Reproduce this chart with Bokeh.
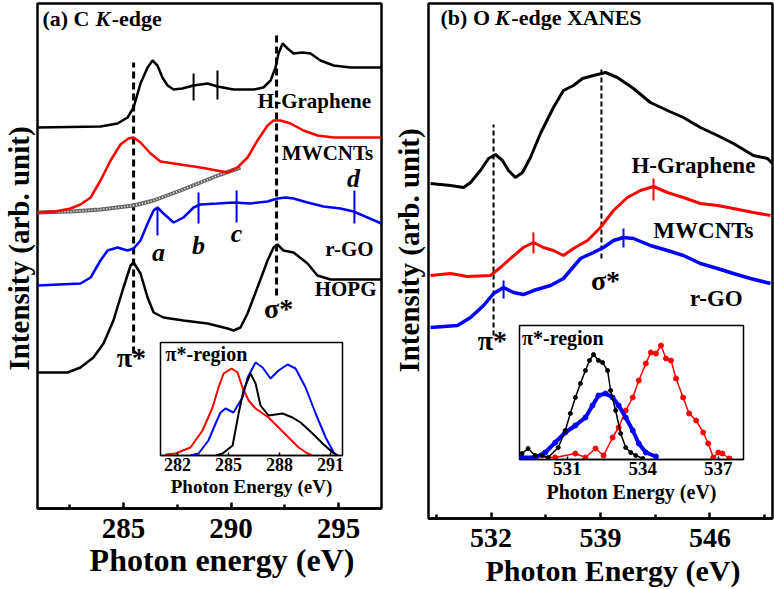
import math
from bokeh.plotting import figure
from bokeh.models import Label, FixedTicker, GridBox, Range1d
from bokeh.embed import file_html
from bokeh.resources import INLINE

FONT = "Liberation Serif"

# ---------------- Panel (a): C K-edge (energy eV, intensity arb. unit) ----------------
hgr_a_e = [281.0, 283.93, 284.72, 285.19, 285.47, 285.79, 286.12, 286.35, 286.58, 286.81, 287.05, 287.33,
           287.74, 288.26, 288.91, 289.37, 290.12, 291.05, 291.51, 291.84, 292.07, 292.21, 292.4, 292.63,
           292.91, 293.33, 293.7, 294.16, 294.77, 295.56, 297.0]
hgr_a_i = [381, 382, 385, 391, 401, 425, 441, 448, 443, 431, 423, 419,
           420, 423, 425, 422, 419, 419, 421, 428, 441, 455, 465, 460,
           455, 456, 455, 448, 443, 441, 441]

mw_a_e = [281.0, 281.84, 282.53, 283.0, 283.47, 283.93, 284.4, 284.86, 285.23, 285.47, 285.79, 286.26, 286.72,
          287.33, 288.58, 289.84, 290.3, 290.77, 291.23, 291.7, 291.98, 292.3, 292.77, 293.37, 294.02, 294.77, 297.0]
mw_a_i = [296, 297, 300, 304, 311, 328, 348, 364, 370, 371, 366, 355, 347,
          345, 341, 336, 341, 351, 368, 383, 388, 388, 385, 378, 373, 371, 371]

bg_a_e = [281.0, 282.53, 283.93, 285.47, 286.4, 287.65, 288.58, 289.51, 290.44]
bg_a_i = [296, 297, 299, 303, 308, 318, 326, 334, 341]

rgo_a_e = [281.0, 283.0, 283.47, 283.93, 284.26, 284.72, 285.19, 285.47, 285.79, 286.12, 286.4, 286.58, 286.86,
           287.33, 287.79, 288.26, 288.58, 289.37, 290.12, 290.91, 291.7, 292.16, 292.53, 292.91, 293.56,
           294.3, 295.09, 295.7, 296.35, 297.0]
rgo_a_i = [223, 225, 231, 248, 258, 261, 258, 260, 268, 285, 298, 301, 295,
           286, 291, 301, 304, 305, 306, 305, 307, 310, 311, 310, 306,
           302, 300, 297, 291, 285]

hopg_a_e = [281.0, 282.4, 283.0, 283.6, 284.07, 284.53, 285.0, 285.33, 285.47, 285.79, 286.12, 286.4, 286.86,
            287.79, 288.91, 289.84, 290.12, 290.44, 290.77, 291.23, 291.7, 291.98, 292.16, 292.44, 292.91,
            293.56, 294.02, 294.63, 297.0]
hopg_a_i = [136, 136, 141, 151, 165, 188, 221, 243, 246, 235, 211, 196, 191,
            188, 185, 180, 178, 181, 195, 221, 248, 261, 264, 258, 256,
            245, 233, 229, 229]

# feature markers (a)
peak_lines_a_e = [285.47, 292.12]          # pi*, sigma*
peak_lines_a_top = [446, 476]
peak_lines_a_bot = [155, 213]
hgr_marks_e = [288.26, 289.37]
hgr_marks_top = [435, 438]
hgr_marks_bot = [408, 409]
rgo_marks_e = [286.58, 288.49, 290.26, 295.74]
rgo_marks_top = [301, 316, 318, 318]
rgo_marks_bot = [273, 285, 286, 285]

# inset (a): pi*-region
ina_red_e = [281.29, 281.88, 282.76, 283.47, 284.06, 284.41, 284.71, 285.18, 285.53, 285.82, 286.18, 286.59,
             287.35, 287.94, 288.53, 289.12, 289.65, 289.94]
ina_red_i = [1, 2, 8, 25, 48, 68, 82, 87, 83, 68, 55, 47, 38, 28, 18, 8, 2, 0]
ina_blue_e = [282.76, 283.24, 283.82, 284.24, 284.53, 284.82, 285.29, 285.82, 286.12, 286.59, 287.0, 287.47,
              287.94, 288.47, 288.94, 289.53, 290.12, 290.71, 291.18, 291.41]
ina_blue_i = [0, 2, 15, 32, 43, 47, 43, 58, 78, 93, 88, 77, 85, 91, 87, 68, 42, 18, 3, 0]
ina_black_e = [284.24, 284.65, 285.24, 285.59, 285.88, 286.29, 286.59, 286.88, 287.35, 288.18, 288.76, 289.24,
               289.94, 290.53, 291.12, 291.41]
ina_black_i = [0, 2, 10, 42, 65, 82, 72, 50, 40, 42, 38, 33, 22, 12, 3, 0]

# ---------------- Panel (b): O K-edge XANES ----------------
hgr_b_e = [528.13, 529.41, 530.24, 530.69, 531.32, 531.84, 532.28, 532.73, 533.12, 533.56, 534.01, 534.52,
           535.16, 535.99, 536.63, 537.27, 537.85, 538.55, 539.32, 540.08, 541.11, 542.19, 543.28, 544.3,
           545.39, 546.48, 547.5, 548.78, 549.68, 550.0]
hgr_b_i = [335, 333, 331, 336, 348, 360, 364, 358, 348, 341, 346, 361,
           385, 411, 428, 433, 440, 443, 446, 441, 430, 416, 408, 401,
           391, 383, 375, 363, 360, 355]
mw_b_e = [528.13, 529.41, 530.49, 531.96, 532.6, 533.24, 534.07, 534.71, 535.35, 535.99, 536.63, 537.27, 538.17,
          539.0, 539.83, 540.72, 541.55, 542.39, 543.28, 544.3, 545.39, 546.48, 547.5, 548.78, 549.87]
mw_b_i = [243, 245, 242, 243, 251, 260, 271, 276, 271, 268, 263, 270, 278,
          291, 308, 321, 328, 332, 326, 321, 315, 313, 310, 306, 303]
rgo_b_e = [528.13, 529.85, 530.69, 531.52, 532.16, 532.8, 533.43, 534.07, 534.71, 535.8, 536.63, 537.72, 538.55,
           539.19, 539.83, 540.47, 541.11, 542.19, 543.28, 544.3, 545.39, 546.48, 547.5, 548.59, 549.87]
rgo_b_i = [191, 193, 201, 213, 225, 231, 226, 224, 228, 233, 240, 260, 266,
           271, 278, 281, 280, 273, 268, 263, 255, 250, 245, 240, 235]

peak_lines_b_e = [532.16, 539.06]
peak_lines_b_top = [394, 452]
peak_lines_b_bot = [183, 260]
mw_marks_b_e = [534.71, 542.39]
mw_marks_b_top = [286, 340]
mw_marks_b_bot = [265, 318]
rgo_marks_b_e = [532.8, 540.47]
rgo_marks_b_top = [238, 290]
rgo_marks_b_bot = [220, 271]

# inset (b): pi*-region
inb_black_e = [529.2, 529.44, 529.72, 530.0, 530.24, 530.64, 530.92, 531.12, 531.32, 531.52, 531.72, 531.88,
               532.04, 532.24, 532.4, 532.6, 532.72, 532.92, 533.12, 533.32, 533.52, 533.72, 534.0]
inb_black_i = [6, 11, 4, 4, 2, 12, 29, 46, 62, 76, 89, 99, 105, 99, 97, 89, 69, 49, 26, 12, 7, 4, 1]
inb_blue_e = [529.2, 529.72, 530.12, 530.52, 530.92, 531.32, 531.72, 532.0, 532.24, 532.52, 532.8, 533.04,
              533.32, 533.6, 533.84, 534.12, 534.52]
inb_blue_i = [2, 2, 7, 17, 27, 34, 42, 54, 64, 66, 62, 54, 42, 29, 16, 7, 3]
inb_red_e = [529.72, 530.52, 531.32, 531.72, 532.12, 532.44, 532.8, 533.04, 533.32, 533.6, 533.84, 534.12,
             534.32, 534.52, 534.72, 534.92, 535.12, 535.32, 535.6, 535.84, 536.12, 536.4, 536.6, 536.8,
             537.0, 537.16, 537.44]
inb_red_i = [3, 2, 6, 2, 11, 4, 22, 32, 49, 62, 79, 96, 107, 106, 114, 101, 99, 81, 62, 46, 39, 27, 16, 2, 7, 6, 1]

ticks_a = [285, 290, 295]
minor_a = [282.5, 287.5, 292.5]
ticks_b = [532, 539, 546]
minor_b = [528.5, 535.5, 542.5, 549.5]
ticks_ia = [282, 285, 288, 291]
ticks_ib = [531, 534, 537]

BLACK, RED, BLUE = "#000000", "#ff0000", "#0000ff"


def make_fig(w, h, xr, yr, mb, major, minor, tick_px, standoff, outline_w, axis_w, tick_in):
    p = figure(width=w, height=h, x_range=Range1d(*xr), y_range=Range1d(*yr),
               output_backend="svg", toolbar_location=None, y_axis_location=None,
               min_border_left=mb[0], min_border_right=mb[1], min_border_top=mb[2], min_border_bottom=mb[3])
    p.xgrid.visible = False
    p.ygrid.visible = False
    p.outline_line_color = "black"
    p.outline_line_width = outline_w
    p.outline_line_alpha = 1
    ax = p.xaxis[0]
    ax.ticker = FixedTicker(ticks=major, minor_ticks=minor)
    ax.axis_line_width = axis_w
    ax.axis_line_color = "black"
    ax.major_tick_line_width = axis_w
    ax.minor_tick_line_width = axis_w
    ax.major_tick_line_color = "black"
    ax.minor_tick_line_color = "black" if minor else None
    ax.major_tick_in = tick_in
    ax.major_tick_out = 0
    ax.minor_tick_in = max(tick_in - 2, 0)
    ax.minor_tick_out = 0
    ax.major_label_text_font = FONT
    ax.major_label_text_font_style = "bold"
    ax.major_label_text_font_size = f"{tick_px}px"
    ax.major_label_text_color = "black"
    ax.major_label_standoff = standoff
    ax.axis_label_text_font = FONT
    ax.axis_label_text_font_style = "bold"
    ax.axis_label_text_color = "black"
    return p


def lab(p, x, y, text, size, style="bold", align="center", baseline="middle", angle=0.0):
    p.add_layout(Label(x=x, y=y, text=text, text_font=FONT, text_font_size=f"{size}px",
                       text_font_style=style, text_align=align, text_baseline=baseline,
                       angle=angle, text_color="black"))


# ---- main (a)
pa = make_fig(400, 589, (281, 297), (0, 505), (37, 19, 3, 81), ticks_a, minor_a, 29, 10, 2.5, 2.5, 6)
pa.segment(x0=peak_lines_a_e, y0=peak_lines_a_bot, x1=peak_lines_a_e, y1=peak_lines_a_top,
           line_color=BLACK, line_width=3, line_dash="7 4")
pa.line(bg_a_e, bg_a_i, line_color="#666666", line_width=4)
pa.line(bg_a_e, bg_a_i, line_color="white", line_width=1.6, line_dash="1 2")
pa.line(hgr_a_e, hgr_a_i, line_color=BLACK, line_width=2.5)
pa.line(mw_a_e, mw_a_i, line_color=RED, line_width=2.5)
pa.line(rgo_a_e, rgo_a_i, line_color=BLUE, line_width=2.5)
pa.line(hopg_a_e, hopg_a_i, line_color=BLACK, line_width=2.5)
pa.segment(x0=hgr_marks_e, y0=hgr_marks_bot, x1=hgr_marks_e, y1=hgr_marks_top, line_color=BLACK, line_width=2)
pa.segment(x0=rgo_marks_e, y0=rgo_marks_bot, x1=rgo_marks_e, y1=rgo_marks_top, line_color=BLUE, line_width=2)

lab(pa, 281.23, 490, "(a) C", 22, align="left")
lab(pa, 283.7, 490, "K", 22, style="bold italic", align="left")
lab(pa, 284.45, 490, "-edge", 22, align="left")
lab(pa, 293.88, 408, "H-Graphene", 21)
lab(pa, 294.49, 356, "MWCNTs", 21)
lab(pa, 295.51, 260, "r-GO", 21)
lab(pa, 295.33, 220, "HOPG", 21)
lab(pa, 286.63, 256, "a", 26, style="bold italic")
lab(pa, 288.49, 263, "b", 26, style="bold italic")
lab(pa, 290.26, 275, "c", 26, style="bold italic")
lab(pa, 295.7, 330, "d", 26, style="bold italic")
lab(pa, 292.21, 200, "σ*", 28)
lab(pa, 285.37, 151, "π*", 28)

# ---- main (b)
pb = make_fig(384, 589, (528, 550), (0, 515), (38, 2, 3, 71), ticks_b, minor_b, 28, 10, 2.5, 2.5, 6)
pb.segment(x0=peak_lines_b_e, y0=peak_lines_b_bot, x1=peak_lines_b_e, y1=peak_lines_b_top,
           line_color=BLACK, line_width=2, line_dash="5 3")
pb.line(hgr_b_e, hgr_b_i, line_color=BLACK, line_width=3)
pb.line(mw_b_e, mw_b_i, line_color=RED, line_width=3)
pb.line(rgo_b_e, rgo_b_i, line_color=BLUE, line_width=3.5)
pb.segment(x0=mw_marks_b_e, y0=mw_marks_b_bot, x1=mw_marks_b_e, y1=mw_marks_b_top, line_color=RED, line_width=2)
pb.segment(x0=rgo_marks_b_e, y0=rgo_marks_b_bot, x1=rgo_marks_b_e, y1=rgo_marks_b_top, line_color=BLUE, line_width=2)

lab(pb, 528.77, 501, "(b) O", 22, align="left")
lab(pb, 532.25, 501, "K", 22, style="bold italic", align="left")
lab(pb, 533.3, 501, "-edge XANES", 22, align="left")
lab(pb, 544.94, 353, "H-Graphene", 23)
lab(pb, 545.58, 288, "MWCNTs", 23)
lab(pb, 546.41, 220, "r-GO", 23)
lab(pb, 539.32, 238, "σ*", 28)
lab(pb, 532.09, 178, "π*", 28)

# ---- inset (a)
ia = make_fig(200, 166, (281, 291.7), (0, 113), (10, 8, 8, 45), ticks_ia, [], 18, 2, 1.5, 1.5, 3)
ia.border_fill_color = None
ia.xaxis.axis_label = "Photon Energy (eV)"
ia.xaxis.axis_label_text_font_size = "19px"
ia.xaxis.axis_label_standoff = 2
ia.line(ina_red_e, ina_red_i, line_color=RED, line_width=2)
ia.line(ina_blue_e, ina_blue_i, line_color=BLUE, line_width=2)
ia.line(ina_black_e, ina_black_i, line_color=BLACK, line_width=2)
lab(ia, 281.3, 102, "π*-region", 20, align="left")

# ---- inset (b)
ib = make_fig(250, 200, (529.1, 538.0), (0, 134), (14, 12, 12, 54), ticks_ib, [], 19, 2, 1.5, 1.5, 3)
ib.border_fill_color = None
ib.xaxis.axis_label = "Photon Energy (eV)"
ib.xaxis.axis_label_text_font_size = "20px"
ib.xaxis.axis_label_standoff = 3
ib.line(inb_red_e, inb_red_i, line_color=RED, line_width=1.5)
ib.scatter(inb_red_e, inb_red_i, size=5, color=RED)
ib.line(inb_blue_e, inb_blue_i, line_color=BLUE, line_width=4)
ib.scatter(inb_blue_e, inb_blue_i, size=5, color=BLUE)
ib.line(inb_black_e, inb_black_i, line_color=BLACK, line_width=1.5)
ib.scatter(inb_black_e, inb_black_i, size=4, color=BLACK)
lab(ib, 529.2, 122, "π*-region", 20, align="left")

# ---- transparent overlay carrying the main axis titles (page pixel units, y measured from the bottom)
ov = figure(width=774, height=589, x_range=Range1d(0, 774), y_range=Range1d(0, 589),
            output_backend="svg", toolbar_location=None, x_axis_location=None, y_axis_location=None,
            min_border=0, outline_line_color=None, background_fill_color=None, border_fill_color=None)
ov.xgrid.visible = False
ov.ygrid.visible = False
lab(ov, 18, 341, "Intensity (arb. unit)", 29, angle=math.pi / 2)
lab(ov, 408, 339, "Intensity (arb. unit)", 29, angle=math.pi / 2)
lab(ov, 221.5, 30, "Photon energy (eV)", 32)
lab(ov, 612.5, 19, "Photon Energy (eV)", 30)

# zero-size tracks keep each plot on its own grid lines (so frames are not aligned to each other)
# column lines: 0,0,150,350,390,400,505,755,774,774 ; row lines: 0,0,313,334,500,513,589,589,589
grid = GridBox(children=[(pa, 1, 1, 5, 4), (pb, 1, 4, 6, 4), (ia, 3, 2, 1, 1), (ib, 2, 6, 3, 1),
                         (ov, 0, 0, 8, 9)],
               rows=["0px", "313px", "21px", "166px", "13px", "76px", "0px", "0px"],
               cols=["0px", "150px", "200px", "40px", "10px", "105px", "250px", "19px", "0px"])

open("out.html", "w").write(file_html(grid, INLINE))
